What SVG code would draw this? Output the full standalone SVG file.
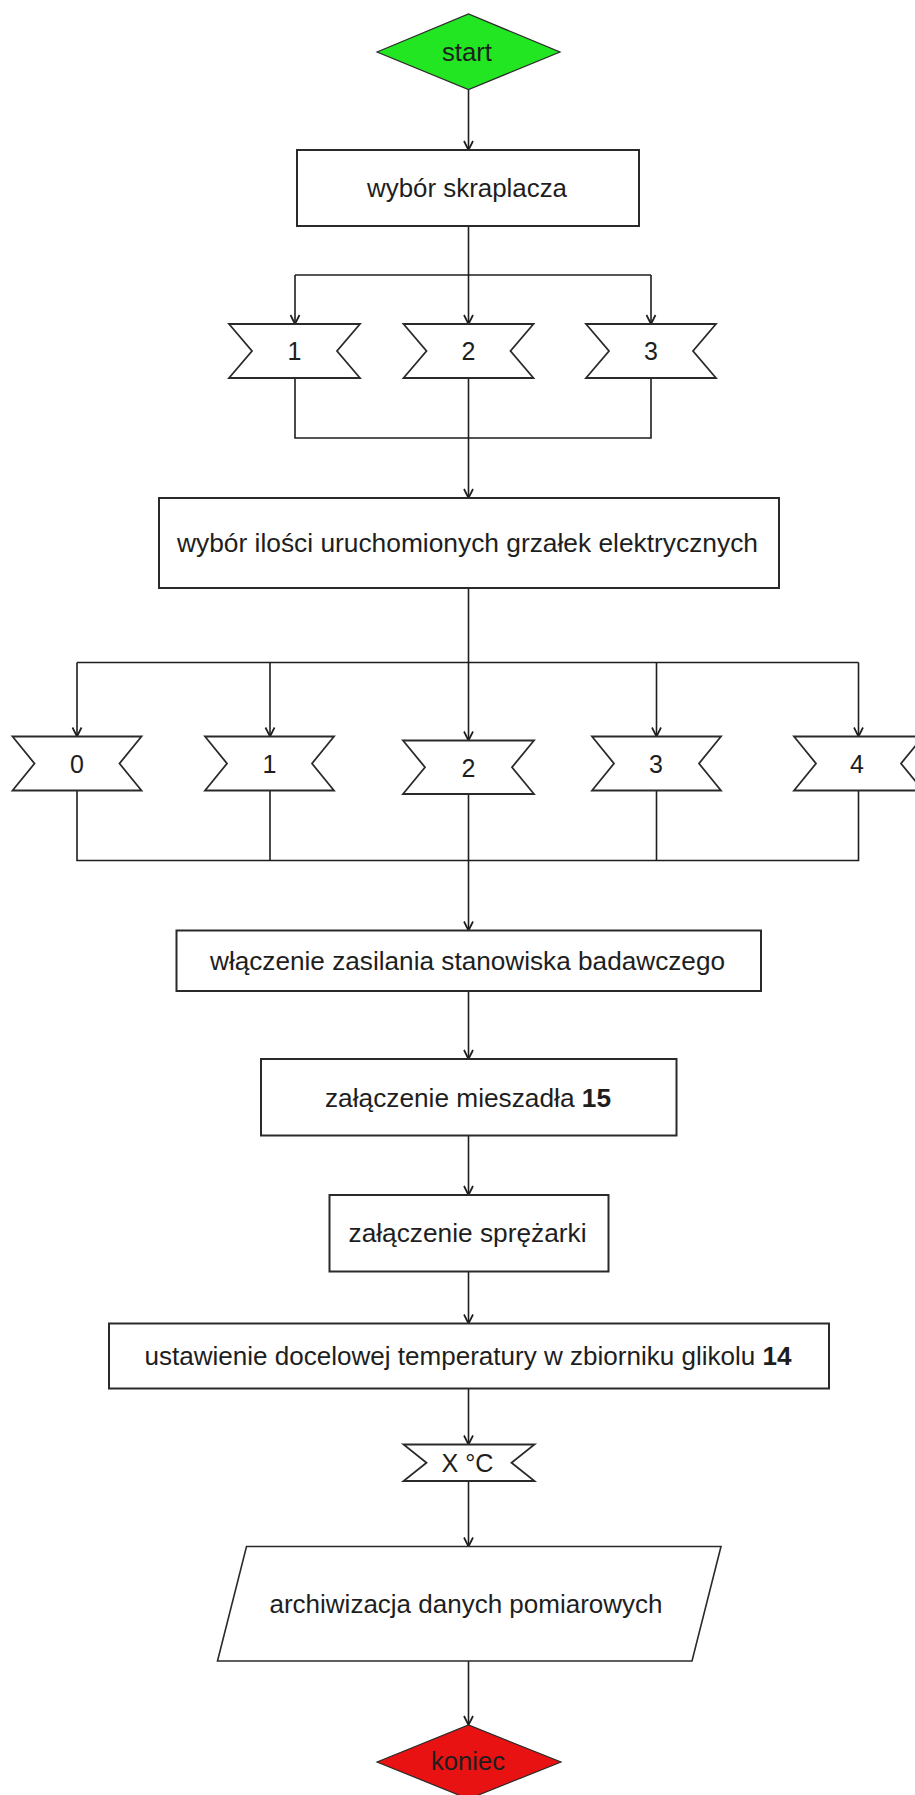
<svg xmlns="http://www.w3.org/2000/svg" width="915" height="1795" viewBox="0 0 915 1795">
<style>
  .box { fill: #ffffff; stroke: #2a2a2a; stroke-width: 2; }
  .ban { fill: #ffffff; stroke: #2a2a2a; stroke-width: 1.8; stroke-linejoin: miter; }
  .t { font-family: "Liberation Sans", Arial, sans-serif; font-size: 25px; fill: #1e1e1e; text-anchor: middle; }
  .b { font-weight: bold; }
  .c { fill: none; stroke: #1e1e1e; stroke-width: 1.6; }
</style>
<defs>
  <marker id="ah" markerUnits="userSpaceOnUse" viewBox="-10 -6 12 12" markerWidth="12" markerHeight="12" refX="0" refY="0" orient="auto" overflow="visible">
    <path d="M-9,-4.5 L0,0 L-9,4.5" fill="none" stroke="#1e1e1e" stroke-width="1.7"/>
  </marker>
</defs>
<rect x="0" y="0" width="915" height="1795" fill="#ffffff"/>

<g id="connectors">
  <path class="c" d="M468.5,89.5 L468.5,150" marker-end="url(#ah)"/>
  <path class="c" d="M468.5,226 L468.5,324" marker-end="url(#ah)"/>
  <path class="c" d="M295,275 L651,275"/>
  <path class="c" d="M295,275 L295,324" marker-end="url(#ah)"/>
  <path class="c" d="M651,275 L651,324" marker-end="url(#ah)"/>
  <path class="c" d="M295,378 L295,438 L651,438 L651,378"/>
  <path class="c" d="M468.5,378 L468.5,498" marker-end="url(#ah)"/>
  <path class="c" d="M468.5,588 L468.5,740.5" marker-end="url(#ah)"/>
  <path class="c" d="M77,662.5 L858.5,662.5"/>
  <path class="c" d="M77,662.5 L77,736.5" marker-end="url(#ah)"/>
  <path class="c" d="M270,662.5 L270,736.5" marker-end="url(#ah)"/>
  <path class="c" d="M656.5,662.5 L656.5,736.5" marker-end="url(#ah)"/>
  <path class="c" d="M858.5,662.5 L858.5,736.5" marker-end="url(#ah)"/>
  <path class="c" d="M77,790.5 L77,860.5 L858.5,860.5 L858.5,790.5"/>
  <path class="c" d="M270,790.5 L270,860.5"/>
  <path class="c" d="M656.5,790.5 L656.5,860.5"/>
  <path class="c" d="M468.5,794 L468.5,930.5" marker-end="url(#ah)"/>
  <path class="c" d="M468.5,991 L468.5,1059" marker-end="url(#ah)"/>
  <path class="c" d="M468.5,1135.5 L468.5,1195" marker-end="url(#ah)"/>
  <path class="c" d="M468.5,1271.5 L468.5,1323.5" marker-end="url(#ah)"/>
  <path class="c" d="M468.5,1388.5 L468.5,1444.5" marker-end="url(#ah)"/>
  <path class="c" d="M468.5,1481 L468.5,1546.5" marker-end="url(#ah)"/>
  <path class="c" d="M468.5,1661 L468.5,1725" marker-end="url(#ah)"/>
</g>

<g id="start">
  <polygon points="377,52 468.5,14 560,52 468.5,89.5" fill="#22e622" stroke="#2a2a2a" stroke-width="1.2"/>
  <text class="t" x="467" y="60.5" textLength="50" lengthAdjust="spacingAndGlyphs">start</text>
</g>

<g id="wybor-skraplacza">
  <rect class="box" x="297" y="150" width="342" height="76"/>
  <text class="t" x="467" y="197" textLength="200" lengthAdjust="spacingAndGlyphs">wybór skraplacza</text>
</g>

<g id="s1">
  <path class="ban" d="M229,324 L360,324 L337,351 L360,378 L229,378 L252,351 Z"/>
  <text class="t" x="294.5" y="360">1</text>
</g>
<g id="s2">
  <path class="ban" d="M403.5,324 L533.5,324 L510.5,351 L533.5,378 L403.5,378 L426.5,351 Z"/>
  <text class="t" x="468.5" y="360">2</text>
</g>
<g id="s3">
  <path class="ban" d="M586,324 L716,324 L693,351 L716,378 L586,378 L609,351 Z"/>
  <text class="t" x="651" y="360">3</text>
</g>

<g id="wybor-grzalek">
  <rect class="box" x="159" y="498" width="620" height="90"/>
  <text class="t" x="467.5" y="552" textLength="581" lengthAdjust="spacingAndGlyphs">wybór ilości uruchomionych grzałek elektrycznych</text>
</g>

<g id="g0">
  <path class="ban" d="M12.5,736.5 L141.5,736.5 L119.5,763.5 L141.5,790.5 L12.5,790.5 L34.5,763.5 Z"/>
  <text class="t" x="77" y="772.5">0</text>
</g>
<g id="g1">
  <path class="ban" d="M205,736.5 L334,736.5 L312,763.5 L334,790.5 L205,790.5 L227,763.5 Z"/>
  <text class="t" x="269.5" y="772.5">1</text>
</g>
<g id="g2">
  <path class="ban" d="M403,740.5 L534,740.5 L512,767.25 L534,794 L403,794 L425,767.25 Z"/>
  <text class="t" x="468.5" y="776.5">2</text>
</g>
<g id="g3">
  <path class="ban" d="M592,736.5 L721,736.5 L699,763.5 L721,790.5 L592,790.5 L614,763.5 Z"/>
  <text class="t" x="656" y="772.5">3</text>
</g>
<g id="g4">
  <path class="ban" d="M794,736.5 L923,736.5 L901,763.5 L923,790.5 L794,790.5 L816,763.5 Z"/>
  <text class="t" x="857" y="772.5">4</text>
</g>

<g id="zasilanie">
  <rect class="box" x="176.5" y="930.5" width="584.5" height="60.5"/>
  <text class="t" x="467.5" y="970" textLength="515" lengthAdjust="spacingAndGlyphs">włączenie zasilania stanowiska badawczego</text>
</g>

<g id="mieszadlo">
  <rect class="box" x="261" y="1059" width="415.5" height="76.5"/>
  <text class="t" x="468" y="1106.5" textLength="286" lengthAdjust="spacingAndGlyphs">załączenie mieszadła <tspan class="b">15</tspan></text>
</g>

<g id="sprezarka">
  <rect class="box" x="329.5" y="1195" width="279" height="76.5"/>
  <text class="t" x="467.5" y="1242" textLength="238" lengthAdjust="spacingAndGlyphs">załączenie sprężarki</text>
</g>

<g id="temperatura">
  <rect class="box" x="109" y="1323.5" width="720" height="65"/>
  <text class="t" x="468" y="1364.5" textLength="647" lengthAdjust="spacingAndGlyphs">ustawienie docelowej temperatury w zbiorniku glikolu <tspan class="b">14</tspan></text>
</g>

<g id="xc">
  <path class="ban" d="M403.5,1444.5 L534.5,1444.5 L511.5,1462.75 L534.5,1481 L403.5,1481 L426.5,1462.75 Z"/>
  <text class="t" x="467.5" y="1472" textLength="52" lengthAdjust="spacingAndGlyphs">X °C</text>
</g>

<g id="archiwizacja">
  <polygon points="246.5,1546.5 721,1546.5 692,1661 217.5,1661" fill="#ffffff" stroke="#2a2a2a" stroke-width="1.6"/>
  <text class="t" x="466" y="1612.5" textLength="393" lengthAdjust="spacingAndGlyphs">archiwizacja danych pomiarowych</text>
</g>

<g id="koniec">
  <polygon points="377,1762 468.5,1725 561,1762 468.5,1799" fill="#e81212" stroke="#2a2a2a" stroke-width="1.2"/>
  <text class="t" x="468" y="1770" textLength="74" lengthAdjust="spacingAndGlyphs" fill="#2a0505">koniec</text>
</g>
</svg>
